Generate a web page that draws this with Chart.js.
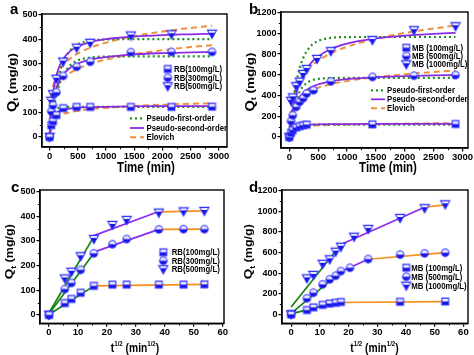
<!DOCTYPE html>
<html><head><meta charset="utf-8">
<script src="https://cdn.jsdelivr.net/npm/chart.js@4.4.1/dist/chart.umd.min.js"></script>
<style>
html,body{margin:0;padding:0;background:#fff;overflow:hidden}
canvas{position:absolute;display:block}
</style></head><body>
<canvas id="ca" width="237" height="175" style="left:0;top:0"></canvas>
<canvas id="cb" width="237" height="175" style="left:237px;top:0"></canvas>
<canvas id="cc" width="237" height="180" style="left:0;top:175px"></canvas>
<canvas id="cd" width="237" height="180" style="left:237px;top:175px"></canvas>
<script>
// ---------- labels ----------
const rbLabels = ['RB(100mg/L)', 'RB(300mg/L)', 'RB(500mg/L)'];
const mbLabels = ['MB (100mg/L)', 'MB (500mg/L)', 'MB (1000mg/L)'];
const modelLabels = ['Pseudo-first-order', 'Pseudo-second-order', 'Elovich'];
const panelLetters = ['a', 'b', 'c', 'd'];

// ---------- tick labels ----------
const xTicksTime = [0, 500, 1000, 1500, 2000, 2500, 3000];
const xTicksSqrt = [0, 10, 20, 30, 40, 50, 60];
const yTicksRB = [0, 100, 200, 300, 400, 500];
const yTicksMB = [0, 200, 400, 600, 800, 1000, 1200];

// ---------- experimental data: RB (panel a) ----------
const tRB = [0, 30, 60, 120, 240, 480, 720, 1440, 2160, 2880];
const rb100 = [0, 48, 65, 90, 118, 123, 123, 123, 123, 124];
const rb300 = [0, 105, 130, 183, 250, 287, 308, 347, 348, 348];
const rb500 = [0, 148, 175, 238, 308, 365, 385, 415, 420, 422];

// ---------- experimental data: MB (panel b) ----------
const tMB100 = [0, 30, 60, 120, 180, 240, 300, 1440, 2880];
const mb100 = [0, 42, 68, 92, 105, 113, 120, 122, 125];
const tMB500 = [0, 30, 60, 120, 180, 240, 300, 420, 720, 1440, 2160, 2880];
const mb500 = [0, 155, 210, 291, 340, 375, 420, 452, 537, 580, 592, 598];
const tMB1000 = [0, 30, 60, 120, 180, 240, 300, 480, 720, 1440, 2160, 2880];
const mb1000 = [0, 349, 382, 490, 534, 608, 656, 753, 828, 935, 1030, 1068];

// ---------- fitted curves (panels a, b) ----------
const tFit = [0, 15, 30, 60, 90, 120, 180, 240, 360, 480, 720, 1000, 1440, 2000, 2500, 2880];
const rb100Pfo = [0, 32, 56, 86, 103, 112, 120, 122, 123, 123, 123, 123, 123, 123, 123, 123];
const rb100Pso = [0, 36, 56, 78, 90, 97, 106, 110, 116, 119, 122, 123, 125, 126, 126, 126];
const rb100Elo = [0, 47, 58, 70, 77, 82, 89, 94, 101, 106, 114, 119, 126, 132, 136, 138];
const rb300Pfo = [0, 28, 54, 100, 138, 170, 219, 252, 291, 311, 325, 329, 330, 330, 330, 330];
const rb300Pso = [0, 47, 84, 136, 171, 197, 232, 255, 282, 298, 316, 327, 337, 343, 346, 348];
const rb300Elo = [0, 96, 129, 165, 186, 202, 224, 239, 261, 277, 299, 317, 337, 355, 368, 375];
const rb500Pfo = [0, 34, 66, 121, 167, 206, 266, 305, 353, 377, 394, 399, 400, 400, 400, 400];
const rb500Pso = [0, 64, 112, 178, 221, 252, 293, 319, 350, 368, 388, 400, 410, 417, 420, 422];
const rb500Elo = [0, 124, 164, 206, 230, 250, 275, 294, 320, 339, 365, 386, 410, 431, 446, 455];
const mb100Pfo = [0, 24, 43, 71, 89, 100, 112, 117, 120, 120, 120, 120, 120, 120, 120, 120];
const mb100Pso = [0, 47, 69, 90, 100, 106, 112, 116, 120, 122, 124, 125, 126, 126, 127, 127];
const mb100Elo = [0, 50, 63, 77, 85, 90, 97, 102, 108, 112, 117, 121, 125, 129, 132, 134];
const mb500Pfo = [0, 67, 123, 222, 298, 358, 439, 490, 540, 559, 568, 570, 570, 570, 570, 570];
const mb500Pso = [0, 74, 132, 217, 278, 322, 384, 424, 474, 504, 537, 558, 576, 587, 594, 597];
const mb500Elo = [0, 164, 220, 281, 317, 344, 381, 408, 445, 472, 510, 541, 575, 606, 627, 640];
const mb1000Pfo = [0, 90, 171, 311, 427, 522, 666, 762, 871, 922, 956, 964, 965, 965, 965, 965];
const mb1000Pso = [0, 79, 148, 260, 347, 418, 525, 601, 704, 769, 849, 901, 947, 978, 995, 1005];
const mb1000Elo = [0, 161, 248, 354, 422, 472, 546, 599, 675, 729, 807, 871, 940, 1004, 1047, 1075];

// ---------- intra-particle diffusion (panels c, d): sqrt(t) ----------
const sRB = [0, 5.48, 7.75, 10.95, 15.49, 21.91, 26.83, 37.95, 46.48, 53.67];
const sMB100 = [0, 5.48, 7.75, 10.95, 13.42, 15.49, 17.32, 37.95, 53.67];
const sMB500 = [0, 5.48, 7.75, 10.95, 13.42, 15.49, 17.32, 20.49, 26.83, 37.95, 46.48, 53.67];
const sMB1000 = [0, 5.48, 7.75, 10.95, 13.42, 15.49, 17.32, 21.91, 26.83, 37.95, 46.48, 53.67];

// piecewise linear fits: [x1, y1, x2, y2]
const rb100Stage1 = [0, 2, 15.49, 117];
const rb100Stage3 = [15.49, 118, 53.67, 124];
const rb300Stage1 = [0, 4, 15.49, 250];
const rb300Stage2 = [15.49, 255, 37.95, 347];
const rb300Stage3 = [37.95, 347, 53.67, 348];
const rb500Stage1 = [0, 8, 15.49, 318];
const rb500Stage2 = [15.49, 322, 37.95, 420];
const rb500Stage3 = [37.95, 418, 53.67, 422];
const mb100Stage1 = [0, 5, 13.42, 102];
const mb100Stage2 = [13.42, 102, 17.32, 114];
const mb100Stage3 = [17.32, 115, 53.67, 124];
const mb500Stage1 = [0, 10, 17.32, 415];
const mb500Stage2 = [17.32, 415, 26.83, 535];
const mb500Stage3 = [26.83, 535, 53.67, 600];
const mb1000Stage1 = [0, 72, 17.32, 678];
const mb1000Stage2 = [17.32, 678, 46.48, 1040];
const mb1000Stage3 = [46.48, 1040, 53.67, 1062];

// ---------- styling ----------
const FONT = "'Liberation Sans', Arial, Helvetica, sans-serif";
const NARROW = "'Liberation Sans Narrow', 'Liberation Sans', Arial, sans-serif";
const SX = 0.82;
Chart.defaults.color = '#000';

function marker(shape) {
  const s = shape === 'tri' ? 10 : 9;
  const c = document.createElement('canvas'); c.width = s + 2; c.height = s + 2;
  const g = c.getContext('2d'); const m = (s + 2) / 2; const r = s / 2 - 0.8;
  g.beginPath();
  if (shape === 'rect') g.rect(m - r + 0.3, m - r + 0.3, 2 * r - 0.6, 2 * r - 0.6);
  else if (shape === 'circle') g.arc(m, m, r, 0, Math.PI * 2);
  else { g.moveTo(m - r - 0.4, m - r + 0.6); g.lineTo(m + r + 0.4, m - r + 0.6); g.lineTo(m, m + r + 0.4); g.closePath(); }
  g.fillStyle = '#eaeaff'; g.fill();
  g.save(); g.clip(); g.fillStyle = '#1515e0'; g.fillRect(0, shape === 'tri' ? m - 1 : m, s + 2, s + 2); g.restore();
  g.lineWidth = 1.1; g.strokeStyle = '#3030ff'; g.stroke();
  return c;
}
const mk = [marker('rect'), marker('circle'), marker('tri')];

const PFO = {borderColor: '#1f8f1f', borderDash: [2, 3], borderWidth: 2.2};
const PSO = {borderColor: '#8a2be2', borderWidth: 1.8};
const ELO = {borderColor: '#f0903c', borderDash: [6, 4], borderWidth: 2};
const G1 = {borderColor: '#128212', borderWidth: 1.7};
const G2 = {borderColor: '#8c2cf0', borderWidth: 1.7};
const G3 = {borderColor: '#f5901e', borderWidth: 1.7};

function pts(xs, ys) { return xs.map((x, i) => ({x: x, y: ys[i]})); }
function scatterSet(label, xs, ys, img) {
  return {label, data: pts(xs, ys), pointStyle: img, showLine: false, pointRadius: 5, pointHoverRadius: 5};
}
function curveSet(xs, ys, style) {
  return Object.assign({data: pts(xs, ys), showLine: true, pointRadius: 0, fill: false, cubicInterpolationMode: 'monotone'}, style);
}
function segSet(seg, style) {
  return Object.assign({data: [{x: seg[0], y: seg[1]}, {x: seg[2], y: seg[3]}], showLine: true, pointRadius: 0, fill: false, tension: 0}, style);
}

// draws a multi-part title; sAlong scales along the text, sAcross across it
function drawParts(ctx, parts, cx, cy, rot, sAlong, sAcross) {
  ctx.save(); ctx.translate(cx, cy); if (rot) ctx.rotate(-Math.PI / 2); ctx.scale(sAlong, sAcross);
  ctx.fillStyle = '#000'; ctx.textBaseline = 'alphabetic'; ctx.textAlign = 'left';
  let w = 0;
  for (const p of parts) { ctx.font = 'bold ' + p.s + 'px ' + FONT; p.w = ctx.measureText(p.t).width; w += p.w; }
  let x = -w / 2; const base = parts[0].s * 0.36;
  for (const p of parts) { ctx.font = 'bold ' + p.s + 'px ' + FONT; ctx.fillText(p.t, x, base + (p.dy || 0)); x += p.w; }
  ctx.restore();
}

const decorPlugin = {
  id: 'decor',
  afterDraw(chart, args, o) {
    const ctx = chart.ctx, a = chart.chartArea, xs = chart.scales.x, ys = chart.scales.y;
    ctx.save();
    // minor ticks
    ctx.strokeStyle = '#000'; ctx.lineWidth = 1;
    const xt = xs.ticks.map(t => t.value), yt = ys.ticks.map(t => t.value);
    ctx.beginPath();
    for (let i = 0; i < xt.length - 1; i++) { const px = Math.round(xs.getPixelForValue((xt[i] + xt[i + 1]) / 2)) + 0.5; ctx.moveTo(px, a.bottom); ctx.lineTo(px, a.bottom + 2.2); }
    for (let i = 0; i < yt.length - 1; i++) { const py = Math.round(ys.getPixelForValue((yt[i] + yt[i + 1]) / 2)) + 0.5; ctx.moveTo(a.left, py); ctx.lineTo(a.left - 2.2, py); }
    ctx.stroke();
    // frame
    ctx.lineWidth = 1.4;
    ctx.strokeRect(a.left, a.top, a.right - a.left, a.bottom - a.top);
    // titles
    drawParts(ctx, o.xTitle, o.xTitlePos[0], o.xTitlePos[1], false, SX, 1);
    const ys0 = o.yTitleSize;
    drawParts(ctx, [{t: 'Q', s: ys0}, {t: 't', s: ys0 * 0.62, dy: ys0 * 0.22}, {t: ' (mg/g)', s: ys0 * 0.93}],
      o.yTitleX, (a.top + a.bottom) / 2 + o.yTitleDy, true, 1, SX);
    // panel letter
    ctx.font = 'bold 15px ' + FONT; ctx.textBaseline = 'middle'; ctx.textAlign = 'left'; ctx.fillStyle = '#000';
    ctx.fillText(o.letter, o.letterPos[0], o.letterPos[1]);
    // legend
    for (const e of o.legend) {
      if (e.img) ctx.drawImage(e.img, e.x - e.img.width / 2, e.y - e.img.height / 2);
      else {
        ctx.save(); ctx.strokeStyle = e.style.borderColor; ctx.lineWidth = e.style.borderWidth;
        ctx.setLineDash(e.style.borderDash || []);
        ctx.beginPath(); ctx.moveTo(e.x - 7, e.y); ctx.lineTo(e.x + 7, e.y); ctx.stroke(); ctx.restore();
      }
      ctx.save(); ctx.translate(e.tx, e.y); ctx.scale(SX, 1);
      ctx.font = 'bold 9.5px ' + FONT; ctx.textBaseline = 'middle'; ctx.textAlign = 'left'; ctx.fillStyle = '#000';
      ctx.fillText(e.text, 0, 0.5); ctx.restore();
    }
    ctx.restore();
  }
};

function makeChart(id, c) {
  const grid = {display: true, drawOnChartArea: false, drawTicks: true, tickLength: 3.5, color: '#000', lineWidth: 1.2};
  const border = {display: true, color: '#000', width: 1.4};
  return new Chart(document.getElementById(id), {
    type: 'scatter',
    data: {datasets: c.datasets},
    options: {
      responsive: false, animation: false, events: [],
      layout: {padding: {top: c.padTop, right: c.padRight, left: 0, bottom: 0}},
      plugins: {legend: {display: false}, tooltip: {enabled: false}, decor: c.decor},
      scales: {
        x: {type: 'linear', min: c.xr[0], max: c.xr[1],
          afterBuildTicks: s => { s.ticks = c.xTicks.map(v => ({value: v})); },
          afterFit: s => { s.height = c.H; },
          grid: grid, border: border,
          ticks: {font: {family: NARROW, size: 9.5, weight: 'bold'}, padding: 0, maxRotation: 0, autoSkip: false, callback: v => String(v)}},
        y: {type: 'linear', min: c.yr[0], max: c.yr[1],
          afterBuildTicks: s => { s.ticks = c.yTicks.map(v => ({value: v})); },
          afterFit: s => { s.width = c.L; },
          grid: grid, border: border,
          ticks: {font: {family: FONT, size: 9, weight: 'bold'}, padding: 1, autoSkip: false, callback: v => String(v)}}
      }
    },
    plugins: [decorPlugin]
  });
}

const timeTitle = () => [{t: 'Time (min)', s: 14}];
const sqrtTitle = () => [{t: 't', s: 12.5}, {t: '1/2', s: 7.5, dy: -5.5}, {t: ' (min', s: 12.5}, {t: '1/2', s: 7.5, dy: -5.5}, {t: ')', s: 12.5}];

// ---------- panel a ----------
makeChart('ca', {
  datasets: [
    scatterSet(rbLabels[0], tRB, rb100, mk[0]),
    scatterSet(rbLabels[1], tRB, rb300, mk[1]),
    scatterSet(rbLabels[2], tRB, rb500, mk[2]),
    curveSet(tFit, rb100Pso, PSO), curveSet(tFit, rb300Pso, PSO), curveSet(tFit, rb500Pso, PSO),
    curveSet(tFit, rb100Pfo, PFO), curveSet(tFit, rb300Pfo, PFO), curveSet(tFit, rb500Pfo, PFO),
    curveSet(tFit, rb100Elo, ELO), curveSet(tFit, rb300Elo, ELO), curveSet(tFit, rb500Elo, ELO)
  ],
  xr: [-135, 3145], yr: [-41, 503], xTicks: xTicksTime, yTicks: yTicksRB,
  L: 42, H: 28, padTop: 14, padRight: 10,
  decor: {
    xTitle: timeTitle(), xTitlePos: [146, 166.5], yTitleX: 11.5, yTitleSize: 14.5, yTitleDy: 2,
    letter: panelLetters[0], letterPos: [10, 10],
    legend: [
      {img: mk[0], x: 167.7, y: 69, tx: 174, text: rbLabels[0]},
      {img: mk[1], x: 167.7, y: 77.7, tx: 174, text: rbLabels[1]},
      {img: mk[2], x: 167.7, y: 86.3, tx: 174, text: rbLabels[2]},
      {style: PFO, x: 137, y: 118.3, tx: 146.5, text: modelLabels[0]},
      {style: PSO, x: 137, y: 128, tx: 146.5, text: modelLabels[1]},
      {style: ELO, x: 137, y: 137.3, tx: 146.5, text: modelLabels[2]}
    ]
  }
});

// ---------- panel b ----------
makeChart('cb', {
  datasets: [
    scatterSet(mbLabels[0], tMB100, mb100, mk[0]),
    scatterSet(mbLabels[1], tMB500, mb500, mk[1]),
    scatterSet(mbLabels[2], tMB1000, mb1000, mk[2]),
    curveSet(tFit, mb100Pso, PSO), curveSet(tFit, mb500Pso, PSO), curveSet(tFit, mb1000Pso, PSO),
    curveSet(tFit, mb100Pfo, PFO), curveSet(tFit, mb500Pfo, PFO), curveSet(tFit, mb1000Pfo, PFO),
    curveSet(tFit, mb100Elo, ELO), curveSet(tFit, mb500Elo, ELO), curveSet(tFit, mb1000Elo, ELO)
  ],
  xr: [-144, 3096], yr: [-106, 1206], xTicks: xTicksTime, yTicks: yTicksMB,
  L: 44, H: 27, padTop: 12, padRight: 3.5,
  decor: {
    xTitle: timeTitle(), xTitlePos: [151, 167], yTitleX: 12.5, yTitleSize: 14.5, yTitleDy: 2,
    letter: panelLetters[1], letterPos: [12, 9.5],
    legend: [
      {img: mk[0], x: 169.3, y: 47.7, tx: 175, text: mbLabels[0]},
      {img: mk[1], x: 169.3, y: 56, tx: 175, text: mbLabels[1]},
      {img: mk[2], x: 169.3, y: 64.3, tx: 175, text: mbLabels[2]},
      {style: PFO, x: 141, y: 90.3, tx: 150, text: modelLabels[0]},
      {style: PSO, x: 141, y: 99.3, tx: 150, text: modelLabels[1]},
      {style: ELO, x: 141, y: 108.3, tx: 150, text: modelLabels[2]}
    ]
  }
});

// ---------- panel c ----------
makeChart('cc', {
  datasets: [
    scatterSet(rbLabels[0], sRB, rb100, mk[0]),
    scatterSet(rbLabels[1], sRB, rb300, mk[1]),
    scatterSet(rbLabels[2], sRB, rb500, mk[2]),
    segSet(rb100Stage1, G1), segSet(rb100Stage3, G3),
    segSet(rb300Stage1, G1), segSet(rb300Stage2, G2), segSet(rb300Stage3, G3),
    segSet(rb500Stage1, G1), segSet(rb500Stage2, G2), segSet(rb500Stage3, G3)
  ],
  xr: [-3.1, 60.45], yr: [-34, 507], xTicks: xTicksSqrt, yTicks: yTicksRB,
  L: 40, H: 31.7, padTop: 15, padRight: 13,
  decor: {
    xTitle: sqrtTitle(), xTitlePos: [135, 172], yTitleX: 9.5, yTitleSize: 13.5, yTitleDy: -5,
    letter: panelLetters[2], letterPos: [11, 13],
    legend: [
      {img: mk[0], x: 163.3, y: 77.3, tx: 171.7, text: rbLabels[0]},
      {img: mk[1], x: 163.3, y: 85.7, tx: 171.7, text: rbLabels[1]},
      {img: mk[2], x: 163.3, y: 94.3, tx: 171.7, text: rbLabels[2]}
    ]
  }
});

// ---------- panel d ----------
makeChart('cd', {
  datasets: [
    scatterSet(mbLabels[0], sMB100, mb100, mk[0]),
    scatterSet(mbLabels[1], sMB500, mb500, mk[1]),
    scatterSet(mbLabels[2], sMB1000, mb1000, mk[2]),
    segSet(mb100Stage1, G1), segSet(mb100Stage2, G2), segSet(mb100Stage3, G3),
    segSet(mb500Stage1, G1), segSet(mb500Stage2, G2), segSet(mb500Stage3, G3),
    segSet(mb1000Stage1, G1), segSet(mb1000Stage2, G2), segSet(mb1000Stage3, G3)
  ],
  xr: [-3.2, 61.6], yr: [-87, 1207], xTicks: xTicksSqrt, yTicks: yTicksMB,
  L: 45, H: 31.7, padTop: 15, padRight: 3.7,
  decor: {
    xTitle: sqrtTitle(), xTitlePos: [137.5, 172], yTitleX: 11.5, yTitleSize: 13.5, yTitleDy: -5,
    letter: panelLetters[3], letterPos: [12, 13],
    legend: [
      {img: mk[0], x: 169.3, y: 92.7, tx: 174.3, text: mbLabels[0]},
      {img: mk[1], x: 169.3, y: 101.7, tx: 174.3, text: mbLabels[1]},
      {img: mk[2], x: 169.3, y: 110.7, tx: 174.3, text: mbLabels[2]}
    ]
  }
});
</script></body></html>
